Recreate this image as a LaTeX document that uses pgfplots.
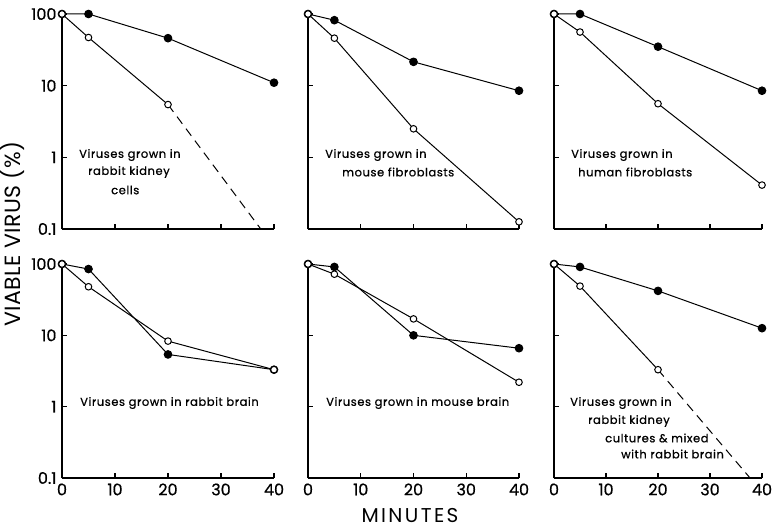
\documentclass[border=0pt]{standalone}
\usepackage{fontspec}
\setmainfont{Poppins}
\usepackage{pgfplots}
\pgfplotsset{compat=1.18}
\pgfplotsset{
  myPanel/.style={
    scale only axis, anchor=south west,
    xmin=0, xmax=40, ymin=0.1, ymax=100,
    axis x line*=bottom, axis y line*=left,
    axis line style={line width=1.3pt,-},
    xtick={0,10,20,30,40}, ytick={0.1,1,10,100},
    yminorticks=false, xminorticks=false,
    tick align=inside, major tick length=5pt,
    tick style={line width=1.1pt, black},
    clip=false, xticklabels={}, yticklabels={},
    tick label style={font=\fontsize{16}{16}\selectfont\addfontfeature{FakeBold=0.6}},
    yticklabel style={xshift=-2pt},
    xticklabel style={yshift=-2pt},
    /pgf/number format/assume math mode=true,
  },
  myFull/.style={black, line width=1pt, mark=*, mark size=3.8pt, mark options={solid, fill=black}},
  myOpen/.style={black, line width=1pt, mark=*, mark size=3.3pt, mark options={solid, fill=white, line width=1pt}},
  myDash/.style={black, line width=1pt, dash pattern=on 9pt off 6pt, no markers},
  myYlabs/.style={yticklabels={0.1,1,10,100}},
  myXlabs/.style={xticklabels={0,10,20,30,40}},
}
\tikzset{myLab/.style={anchor=west, font=\fontsize{11.5}{11.5}\selectfont\addfontfeature{LetterSpace=5,FakeBold=0.8}, inner sep=0pt}}
\begin{document}
\begin{tikzpicture}[x=1pt,y=1pt]
\useasboundingbox (0,0) rectangle (775,-530);
% ---------- row 1 ----------
\begin{axis}[ymode=log, myPanel, myYlabs, at={(62pt,-229pt)}, width=212pt, height=215pt]
\addplot[myFull] coordinates {(0,100) (5,100) (20,46) (40,11)};
\addplot[myDash] coordinates {(20,5.45) (37.5,0.1)};
\addplot[myOpen] coordinates {(0,100) (5,47) (20,5.45)};
\end{axis}
\begin{axis}[ymode=log, myPanel, at={(308pt,-229pt)}, width=211pt, height=215pt]
\addplot[myFull] coordinates {(0,100) (5,82) (20,21.5) (40,8.5)};
\addplot[myOpen] coordinates {(0,100) (5,46) (20,2.5) (40,0.126)};
\end{axis}
\begin{axis}[ymode=log, myPanel, at={(554pt,-229pt)}, width=208pt, height=215pt]
\addplot[myFull] coordinates {(0,100) (5,100) (20,35) (40,8.5)};
\addplot[myOpen] coordinates {(0,100) (5,56) (20,5.6) (40,0.41)};
\end{axis}
% ---------- row 2 ----------
\begin{axis}[ymode=log, myPanel, myYlabs, myXlabs, at={(62pt,-478pt)}, width=212pt, height=214pt]
\addplot[myFull] coordinates {(0,100) (5,85) (20,5.4) (40,3.3)};
\addplot[myOpen] coordinates {(0,100) (5,48) (20,8.3) (40,3.3)};
\end{axis}
\begin{axis}[ymode=log, myPanel, myXlabs, at={(308pt,-478pt)}, width=211pt, height=214pt]
\addplot[myFull] coordinates {(0,100) (5,91) (20,10) (40,6.6)};
\addplot[myOpen] coordinates {(0,100) (5,72) (20,17) (40,2.2)};
\end{axis}
\begin{axis}[ymode=log, myPanel, myXlabs, at={(554pt,-478pt)}, width=208pt, height=214pt]
\addplot[myFull] coordinates {(0,100) (5,91) (20,42) (40,12.6)};
\addplot[myDash] coordinates {(20,3.3) (37.7,0.1)};
\addplot[myOpen] coordinates {(0,100) (5,49) (20,3.3)};
\end{axis}
% ---------- panel texts ----------
\node[myLab] at (79,-155) {Viruses grown in};
\node[myLab] at (88,-172) {rabbit kidney};
\node[myLab] at (111,-190) {cells};
\node[myLab] at (325,-155) {Viruses grown in};
\node[myLab] at (342,-172) {mouse fibroblasts};
\node[myLab] at (571,-155) {Viruses grown in};
\node[myLab] at (578,-172) {human fibroblasts};
\node[myLab] at (80,-403) {Viruses grown in rabbit brain};
\node[myLab] at (326,-403) {Viruses grown in mouse brain};
\node[myLab] at (570,-403) {Viruses grown in};
\node[myLab] at (588,-421) {rabbit kidney};
\node[myLab] at (605,-438) {cultures \& mixed};
\node[myLab] at (621,-454) {with rabbit brain};
% ---------- axis titles ----------
\node[rotate=90, font=\fontsize{22}{22}\selectfont\addfontfeature{LetterSpace=2}, inner sep=0pt] at (12,-234) {VIABLE VIRUS (\%)};
\node[font=\fontsize{20}{20}\selectfont\addfontfeature{LetterSpace=12}, inner sep=0pt] at (410,-515) {MINUTES};
\end{tikzpicture}
\end{document}
